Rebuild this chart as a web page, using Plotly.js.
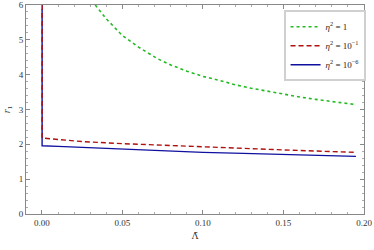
<!DOCTYPE html>
<html><head><meta charset="utf-8">
<script src="https://cdn.plot.ly/plotly-3.0.1.min.js"></script>
<style>html,body{margin:0;padding:0;background:#fff}#plot{width:374px;height:250px}</style>
</head><body><div id="plot"></div>
<script>
const greenX = [0.0331, 0.04, 0.05, 0.06, 0.0717, 0.08, 0.09, 0.10, 0.11, 0.12, 0.13, 0.14, 0.15, 0.16, 0.17, 0.18, 0.195];
const greenY = [6.0, 5.6, 5.12, 4.79, 4.46, 4.28, 4.10, 3.95, 3.84, 3.71, 3.61, 3.52, 3.44, 3.36, 3.29, 3.23, 3.14];
const redX = [0.0001, 0.0001, 0.01, 0.025, 0.05, 0.075, 0.10, 0.125, 0.15, 0.175, 0.195];
const redY = [6.0, 2.18, 2.14, 2.08, 2.02, 1.97, 1.92, 1.88, 1.84, 1.80, 1.77];
const blueX = [0.0001, 0.0001, 0.01, 0.025, 0.05, 0.075, 0.10, 0.125, 0.15, 0.175, 0.195];
const blueY = [6.0, 1.96, 1.94, 1.91, 1.87, 1.82, 1.77, 1.74, 1.71, 1.68, 1.655];
const names = ['<i>η</i><sup>2</sup> = 1', '<i>η</i><sup>2</sup> = 10<sup>−1</sup>', '<i>η</i><sup>2</sup> = 10<sup>−6</sup>'];
const xTicks = [0, 0.05, 0.10, 0.15, 0.20];
const xTickText = ['0.00', '0.05', '0.10', '0.15', '0.20'];
const yTicks = [0, 1, 2, 3, 4, 5, 6];

const font = {family: 'Liberation Serif, Times New Roman, serif', size: 9, color: '#333'};
const traces = [
  {x: blueX, y: blueY, name: names[2], mode: 'lines', line: {color: '#1010a0', width: 1.4}, legendgroup: 'c', legendrank: 3},
  {x: redX, y: redY, name: names[1], mode: 'lines', line: {color: '#b01010', width: 1.4, dash: '5px,3px'}, legendgroup: 'b', legendrank: 2},
  {x: greenX, y: greenY, name: names[0], mode: 'lines', line: {color: '#22bb22', width: 1.6, dash: 'dot'}, legendgroup: 'a', legendrank: 1}
];
const axisCommon = {
  showgrid: false, zeroline: false, showline: true, linecolor: '#888', linewidth: 1,
  mirror: 'ticks', ticks: 'inside', ticklen: 4, tickcolor: '#888', tickfont: font
};
const layout = {
  width: 374, height: 250,
  margin: {l: 26, r: 10, t: 5, b: 36},
  paper_bgcolor: '#fff', plot_bgcolor: '#fff',
  font: font,
  showlegend: true,
  legend: {x: 0.762, y: 0.975, xanchor: 'left', yanchor: 'top', bgcolor: '#fff',
           bordercolor: '#d0d0d0', borderwidth: 2, font: {family: font.family, size: 9, color: '#222'},
           tracegroupgap: 9, traceorder: 'normal', itemwidth: 30},
  xaxis: Object.assign({}, axisCommon, {
    range: [-0.0099, 0.2], tickvals: xTicks, ticktext: xTickText,
    minor: {dtick: 0.01, ticks: 'inside', ticklen: 2, tickcolor: '#aaa'},
    title: {text: 'Λ̄', font: {family: 'DejaVu Serif, serif', size: 9, color: '#333'}, standoff: 5}
  }),
  yaxis: Object.assign({}, axisCommon, {
    range: [0, 6], tickvals: yTicks,
    minor: {dtick: 0.2, ticks: 'inside', ticklen: 2, tickcolor: '#aaa'},
    title: {text: '<i>r</i><sub>1</sub>', font: {family: font.family, size: 10, color: '#333'}, standoff: 6}
  })
};
Plotly.newPlot('plot', traces, layout, {staticPlot: true, displayModeBar: false});
</script></body></html>
